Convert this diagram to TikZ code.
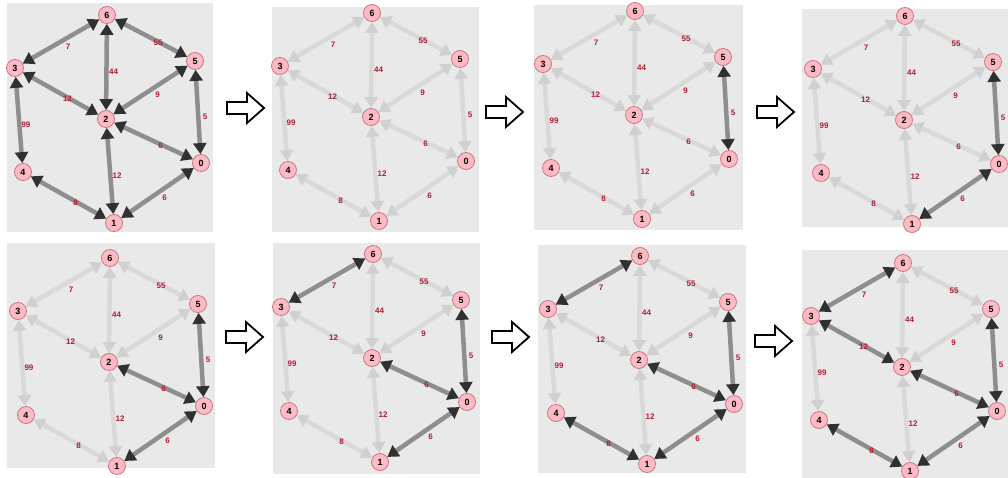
\documentclass[tikz,border=0pt]{standalone}
\usepackage{fontspec}
\setmainfont{Liberation Sans}
\usetikzlibrary{arrows.meta, positioning}
\definecolor{panelGrey}{RGB}{233,233,233}
\definecolor{nodePink}{RGB}{255,186,196}
\definecolor{nodeRim}{RGB}{196,122,134}
\definecolor{hotLine}{RGB}{142,142,142}
\definecolor{hotTip}{RGB}{48,48,48}
\definecolor{coldLine}{RGB}{217,217,217}
\definecolor{coldTip}{RGB}{208,208,208}
\definecolor{weightRed}{RGB}{176,30,52}

\tikzset{
    vertex/.style={circle, draw=nodeRim, fill=nodePink, line width=0.8pt, minimum size=17pt, inner sep=0pt, font=\bfseries\fontsize{9}{9}\selectfont},
    edgeLink/.style={line width=4.5pt},
    hotEdge/.style={edgeLink, hotLine, {Triangle[length=11pt, width=13pt, color=hotTip]}-{Triangle[length=11pt, width=13pt, color=hotTip]}},
    coldEdge/.style={edgeLink, coldLine, {Triangle[length=11pt, width=13pt, color=coldTip]}-{Triangle[length=11pt, width=13pt, color=coldTip]}},
    weightLbl/.style={midway, xshift=7pt, yshift=-5pt, text=weightRed, inner sep=0pt, font=\bfseries\fontsize{8}{8}\selectfont},
    stepArrow/.style={draw=black, fill=white, line width=1.8pt, line join=miter},
}

\begin{document}
\begin{tikzpicture}[x=1pt, y=-1pt]
    \useasboundingbox (0,0) rectangle (1008,478);

    % panels: id / step / where node 6 sits / grey box
    \foreach \p/\s/\cx/\cy/\ax/\ay/\bx/\by in {
        1/100/107/15/7/3/213/232,   2/2/372/13/272/7/479/232,
        3/3/635/11/534/5/743/230,   4/4/905/16/802/9/1008/227,
        5/5/110/258/7/243/215/468,  6/6/373/254/273/243/480/474,
        7/7/640/256/538/245/746/473, 8/8/903/263/802/250/1008/478}
    {
        \fill[panelGrey] (\ax,\ay) rectangle (\bx,\by);
        \begin{scope}[shift={(\cx,\cy)}]
            \foreach \n/\nx/\ny in {6/0/0, 3/-92/53, 5/88/46, 2/-1/104, 4/-84/157, 0/94/148, 1/7/208}
                \node[vertex] (p\p-\n) at (\nx,\ny) {\n};
        \end{scope}
        % ends / weight / first step where the edge is dark
        \foreach \a/\b/\w/\k in {6/3/7/6, 6/5/55/100, 6/2/44/100, 3/2/12/8, 5/2/9/100, 3/4/99/100,
                                 5/0/5/3, 2/0/6/5, 2/1/12/100, 4/1/8/7, 1/0/6/4}
        {
            \ifnum\s<\k \def\look{coldEdge}\else\def\look{hotEdge}\fi
            \draw[\look] (p\p-\a) -- (p\p-\b) node[weightLbl] {\w};
        }
    }

    % arrows between the panels
    \foreach \tx/\ty in {227/108, 486/112, 757/112, 226/337, 492/337, 755/341}
        \draw[stepArrow] (\tx,\ty) ++(0,-6) -- ++(20,0) -- ++(0,-9) -- ++(17,15) -- ++(-17,15) -- ++(0,-9) -- ++(-20,0) -- cycle;
\end{tikzpicture}
\end{document}
